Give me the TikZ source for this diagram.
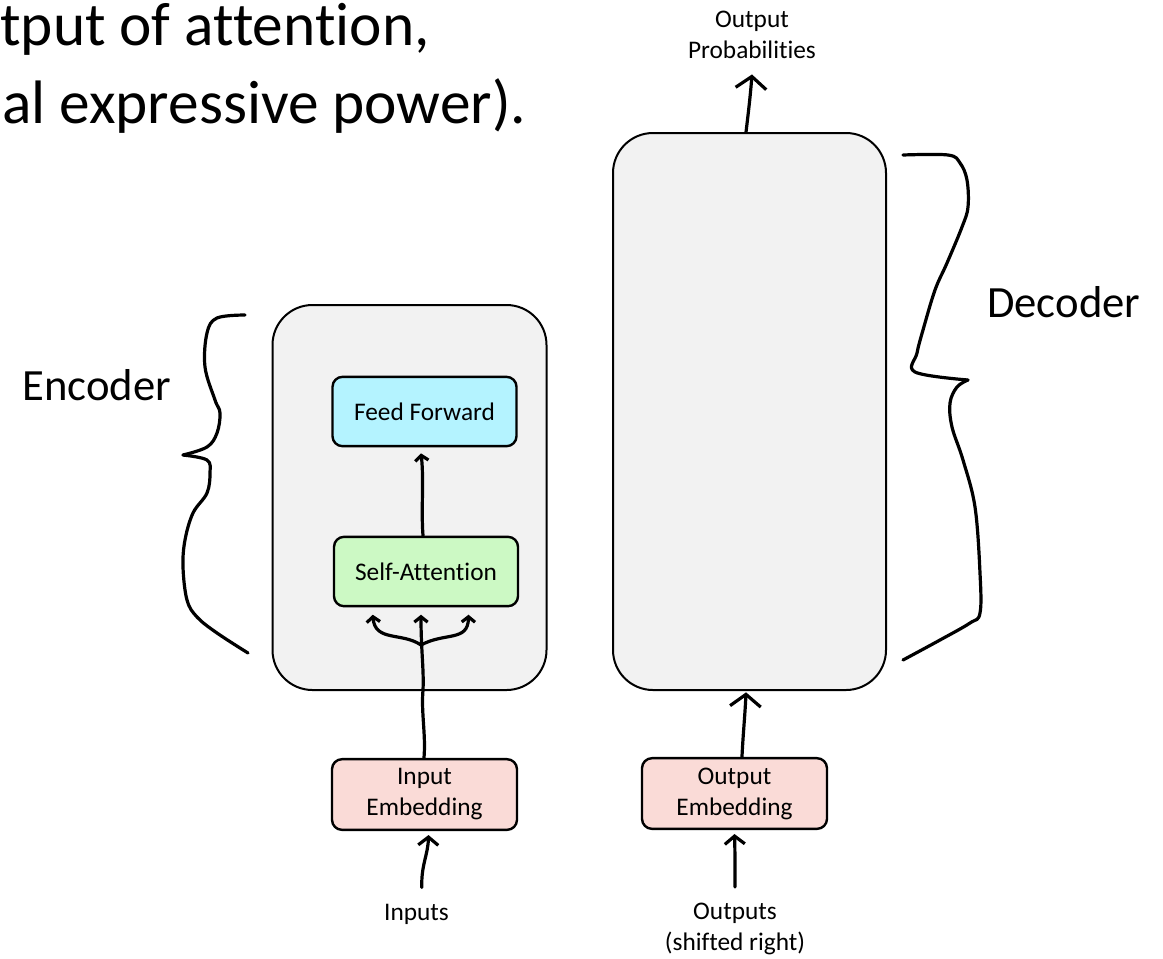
\documentclass[tikz,border=0pt]{standalone}
\usepackage{fontspec}
\setmainfont[Ligatures={NoCommon,NoContextual}]{Carlito}
\usetikzlibrary{arrows.meta}
\definecolor{panel}{HTML}{F2F2F2}
\definecolor{ffcol}{HTML}{B4F3FF}
\definecolor{sacol}{HTML}{CCF9C4}
\definecolor{embcol}{HTML}{FADBD7}
\begin{document}
\begin{tikzpicture}[x=0.75pt,y=-0.75pt,
  panelbox/.style={draw=black, line width=1.5pt, fill=panel, rounded corners=30pt, inner sep=0pt},
  smallbox/.style={draw=black, line width=1.8pt, rounded corners=7.5pt, minimum width=138pt,
     minimum height=52pt, inner sep=0pt, align=center, font=\fontsize{19}{23.25}\selectfont},
  lbl/.style={inner sep=0pt, align=center, font=\fontsize{19}{23}\selectfont},
  biglbl/.style={inner sep=0pt, font=\fontsize{33.5}{40}\selectfont},
  toptext/.style={inner sep=0pt, font=\fontsize{46}{58}\selectfont},
  hand/.style={line width=2.4pt, line cap=round, line join=round},
  bighead/.style={-{Straight Barb[length=9pt,width=23pt]}},
  midhead/.style={-{Straight Barb[length=6pt,width=15pt]}},
  smallhead/.style={-{Straight Barb[length=4pt,width=10pt]}}]
\useasboundingbox (0,0) rectangle (1163,958);

% top text
\node[toptext, anchor=base west] (t1) at (0,45) {tput of attention,};
\node[toptext, anchor=base west] (t2) at (2,123) {al expressive power).};

% panels
\node[panelbox, minimum width=205.5pt, minimum height=288.75pt] (enc) at (409.5,497.5) {};
\node[panelbox, minimum width=204.75pt, minimum height=417.75pt] (dec) at (749.5,411.5) {};

% inner boxes
\node[smallbox, fill=ffcol] (ff) at (424.5,411.5) {Feed Forward};
\node[smallbox, fill=sacol] (sa) at (426,571.5) {Self-Attention};
\node[smallbox, fill=embcol, minimum width=138.75pt, minimum height=53pt] (ie) at (424.5,794.5) {Input\\Embedding};
\node[smallbox, fill=embcol, minimum width=138.75pt, minimum height=53pt] (oe) at (734.5,793.5) {Output\\Embedding};

% labels (base anchor = baseline of the last line)
\node[lbl, anchor=base] (inp) at (416.5,920) {Inputs};
\node[lbl, anchor=base] (outp) at (735,950) {Outputs\\(shifted right)};
\node[lbl, anchor=base] (op) at (752,58) {Output\\Probabilities};
\node[biglbl, anchor=base west] (encl) at (22,400) {Encoder};
\node[biglbl, anchor=base west] (decl) at (987,317) {Decoder};

% connectors
\coordinate (j) at (421,645);
\coordinate (saL) at ([xshift=30pt,yshift=-5.5pt]sa.south west);
\coordinate (saM) at ([xshift=-3.75pt,yshift=-5.5pt]sa.south);
\coordinate (saR) at ([xshift=-38pt,yshift=-5.5pt]sa.south east);

\draw[hand, smallhead] ([xshift=-0.4pt]ie.north) .. controls (426,735) and (421,712) .. (423,690)
   .. controls (424,670) and (421,650) .. (saM);
\draw[hand, smallhead] (j) .. controls (402,632) and (375,642) .. (saL);
\draw[hand, smallhead] (j) .. controls (445,632) and (468,642) .. (saR);
\draw[hand, smallhead] ([xshift=-2.25pt]sa.north) .. controls (421,510) and (424,480) .. ([xshift=-2.6pt,yshift=-4.5pt]ff.south);

\draw[hand, midhead] ([xshift=4pt,yshift=12pt]inp.north) .. controls (421,865) and (428,855) .. ([xshift=3pt,yshift=-3pt]ie.south);
\draw[hand, midhead] (735,887) .. controls (735,865) and (735,850) .. ([yshift=-3pt]oe.south);
\draw[hand, bighead] ([xshift=5.6pt]oe.north) .. controls (743,735) and (745,715) .. ([xshift=-2.6pt,yshift=-1pt]dec.south);
\draw[hand, bighead] ([xshift=-2.6pt]dec.north) .. controls (748,115) and (750,100) .. ([yshift=-12pt]op.south);

% braces
\draw[hand] plot[smooth, tension=0.6] coordinates {(245,315) (217,318) (207,333) (205,367) (215,400) (220,413) (217,433) (207,447) (183,455)};
\draw[hand] plot[smooth, tension=0.6] coordinates {(183,455) (207,460) (210,473) (207,493) (193,513) (185,540) (183,567) (187,600) (197,617) (217,633) (248,653)};
\draw[hand] plot[smooth, tension=0.6] coordinates {(903,155) (948,155) (960,163) (967,180) (968,207) (962,227) (947,263) (935,290) (923,330) (917,353) (915,372) (968,380)};
\draw[hand] plot[smooth, tension=0.6] coordinates {(968,380) (957,387) (950,403) (952,427) (963,460) (975,507) (980,573) (980,613) (970,623) (940,640) (903,660)};
\end{tikzpicture}
\end{document}
